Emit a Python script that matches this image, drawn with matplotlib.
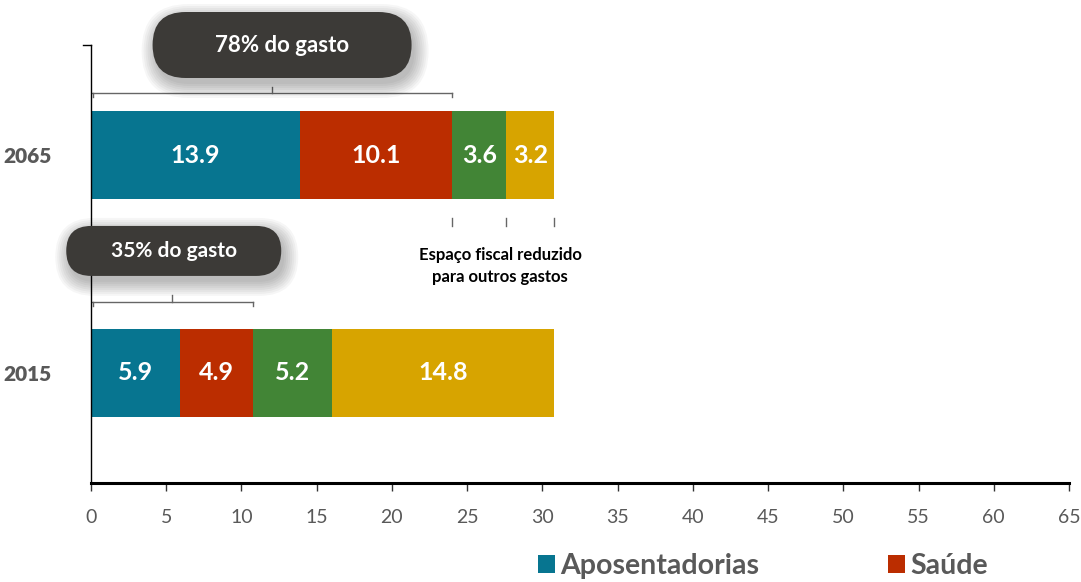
import numpy as np
import matplotlib.pyplot as plt
from matplotlib.patches import FancyBboxPatch

plt.rcParams['font.family'] = ['Lato', 'DejaVu Sans']

# dados
anos = ['2015', '2065']
categorias = ['Aposentadorias', 'Saúde', 'Educação', 'Outros']
aposentadorias = [5.9, 13.9]
saude = [4.9, 10.1]
educacao = [5.2, 3.6]
outros = [14.8, 3.2]
cores = ['#077590', '#BB2D00', '#428536', '#D7A400']
textos_bolha = ['35% do gasto', '78% do gasto']
nota = 'Espaço fiscal reduzido\npara outros gastos'

series = [aposentadorias, saude, educacao, outros]

fig = plt.figure(figsize=(10.81, 5.82), dpi=100)
ax = fig.add_axes([91 / 1081, 1 - 483 / 582, (1069 - 91) / 1081, (483 - 45) / 582])

y = np.arange(len(anos))
left = np.zeros(len(anos))
bars = []
for vals, cor, nome in zip(series, cores, categorias):
    b = ax.barh(y, vals, left=left, height=0.404, color=cor, label=nome)
    bars.append(b)
    for yi, v, l in zip(y, vals, left):
        ax.text(l + v / 2, yi, f'{v:.1f}', ha='center', va='center',
                color='white', fontsize=18, fontweight='bold')
    left = left + np.array(vals)

ax.set_xlim(0, 65)
ax.set_ylim(-0.505, 1.505)
ax.set_xticks(np.arange(0, 66, 5))
ax.tick_params(axis='x', direction='out', length=6, width=1, color='#333333',
               labelcolor='#595959', labelsize=14, pad=13)
ax.set_yticks(y)
ax.set_yticklabels(anos)
ax.tick_params(axis='y', length=0, pad=28)
for lab in ax.get_yticklabels():
    lab.set_fontweight('heavy')
    lab.set_fontsize(15)
    lab.set_color('#595959')
for s in ['top', 'right']:
    ax.spines[s].set_visible(False)
ax.spines['bottom'].set_linewidth(2.2)
ax.spines['left'].set_linewidth(1)
ax.plot([-0.5, 0], [1.505, 1.505], color='black', lw=1, clip_on=False)

# chaves
cinza = '#666666'
soma2 = [a + s for a, s in zip(aposentadorias, saude)]
for yi, yb, tot in [(1, 1.284, soma2[1]), (0, 0.326, soma2[0])]:
    ax.plot([0, tot], [yb, yb], color=cinza, lw=1)
    ax.plot([tot, tot], [yb, yb - 0.018], color=cinza, lw=1)
    ax.plot([0.15, 0.15], [yb, yb - 0.018], color=cinza, lw=1)
    ax.plot([tot / 2, tot / 2], [yb, yb + 0.03], color=cinza, lw=1)

# marcas abaixo da barra de 2065
limites = [soma2[1], soma2[1] + educacao[1], soma2[1] + educacao[1] + outros[1]]
for xm in limites:
    ax.plot([xm, xm], [0.711, 0.675], color=cinza, lw=1)
ax.text(27.2, 0.49, nota, ha='center', va='center', fontsize=12,
        fontweight='bold', color='black', linespacing=1.45)

# bolhas
def bolha(xc, yc, w, h, texto, fs):
    cx, cy = ax.transData.transform((xc, yc)) / fig.dpi
    w, h = w / 100, h / 100
    for k in np.linspace(0.0, 0.14, 8):
        sh = FancyBboxPatch((cx - w / 2 + 0.03, cy - h / 2 - 0.06), w, h,
                            boxstyle=f'round,pad={k},rounding_size={h / 2 + k}',
                            transform=fig.dpi_scale_trans, fc='black', ec='none',
                            alpha=0.035, zorder=5)
        fig.add_artist(sh)
    p = FancyBboxPatch((cx - w / 2, cy - h / 2), w, h,
                       boxstyle=f'round,pad=0,rounding_size={h / 2}',
                       transform=fig.dpi_scale_trans, fc='#3C3A37', ec='none', zorder=6)
    fig.add_artist(p)
    fig.text(cx / fig.get_figwidth(), cy / fig.get_figheight(), texto,
             ha='center', va='center', color='white', fontsize=fs,
             fontweight='bold', zorder=7)

bolha(12.7, 1.505, 259, 66, textos_bolha[1], 16)
bolha(5.5, 0.56, 215, 50, textos_bolha[0], 15)

# legenda (apenas as duas primeiras aparecem)
fig.legend(handles=bars[:2], labels=categorias[:2], loc='center left',
           bbox_to_anchor=(512 / 1081, 1 - 566 / 582), ncol=2, frameon=False,
           handlelength=0.6, handleheight=0.6, handletextpad=0.2, columnspacing=4.5,
           prop={'size': 20.5, 'weight': 'bold'}, labelcolor='#595959')

fig.savefig('out.png', dpi=100)
